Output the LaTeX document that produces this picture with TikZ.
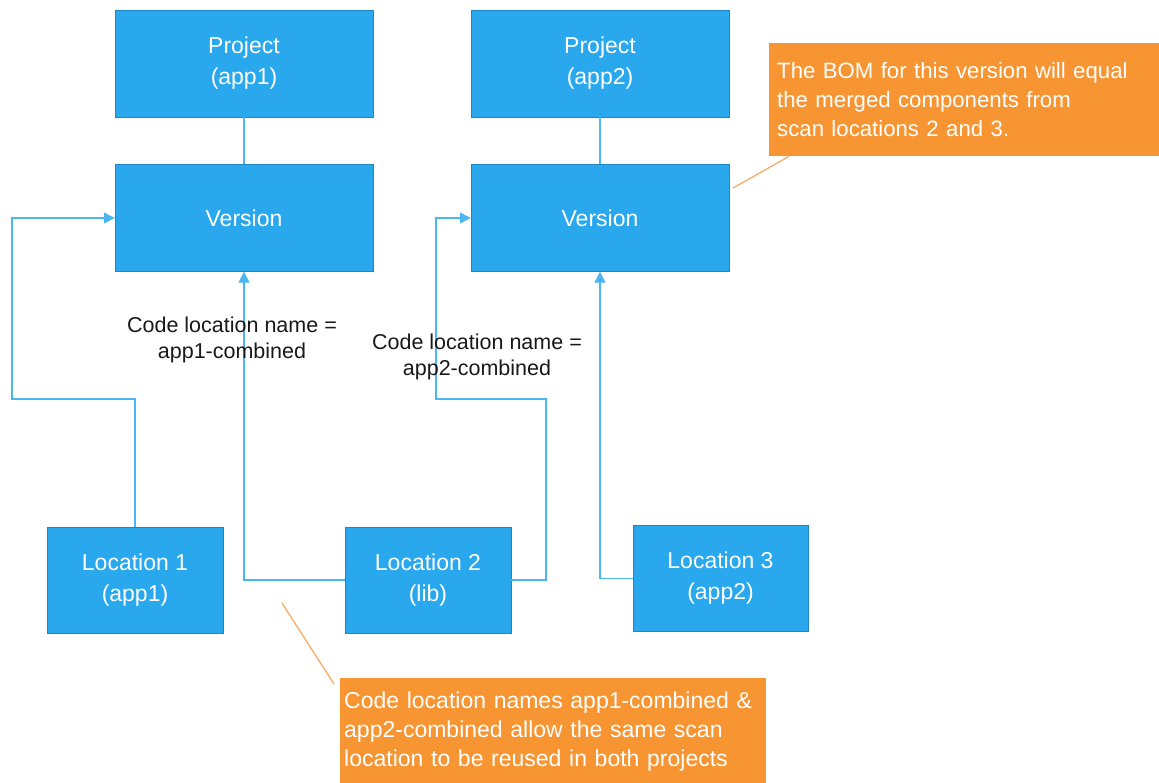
\documentclass[tikz,border=0pt]{standalone}
\usepackage{fontspec}
\setmainfont{Liberation Sans}
\usetikzlibrary{arrows.meta}

\definecolor{boxblue}{RGB}{41,168,238}
\definecolor{boxedge}{RGB}{30,135,195}
\definecolor{linkblue}{RGB}{75,182,240}
\definecolor{noteorange}{RGB}{247,149,51}
\definecolor{leaderorange}{RGB}{250,172,100}

\begin{document}
\begin{tikzpicture}[x=1pt,y=-1pt]
	\useasboundingbox (0,0) rectangle (1159,782);

	\tikzstyle{appbox}=[draw=boxedge,fill=boxblue,text=white,align=center,inner sep=0pt,
	font=\fontsize{23}{31}\selectfont]
	\tikzstyle{wide}=[minimum width=258pt,minimum height=107pt]
	\tikzstyle{loc}=[minimum height=106pt]
	\tikzstyle{plain}=[draw=linkblue,line width=1.3pt]
	\tikzstyle{link}=[plain,-{Triangle[length=11pt,width=11pt]}]
	\tikzstyle{caption}=[align=center,text=black!90,font=\fontsize{21.5}{26}\selectfont]
	\tikzstyle{note}=[fill=noteorange,text=white,align=left,anchor=north west,
	inner sep=8pt,font=\fontsize{23}{29}\selectfont]
	\tikzstyle{leader}=[draw=leaderorange,line width=1.3pt]

	%% Projects and their versions
	\node[appbox,wide] (proj1) at (244,63.5) {Project\\(app1)};
	\node[appbox,wide] (ver1) at (244,218) {Version};
	\node[appbox,wide] (proj2) at (600,63.5) {Project\\(app2)};
	\node[appbox,wide] (ver2) at (600,218) {Version};

	%% Scan locations
	\node[appbox,loc,minimum width=176pt] (loc1) at (135,580) {Location 1\\(app1)};
	\node[appbox,loc,minimum width=166pt] (loc2) at (428,580) {Location 2\\(lib)};
	\node[appbox,loc,minimum width=175pt] (loc3) at (720.5,578.5) {Location 3\\(app2)};

	%% Links
	\coordinate (turn1a) at (12,399);
	\coordinate (turn2a) at (546,399);
	\coordinate (turn2b) at (436,218);

	\draw[plain] (proj1) -- (ver1);
	\draw[plain] (proj2) -- (ver2);
	\draw[link] (loc1.north) |- (turn1a) |- (ver1.west);
	\draw[link] (loc2.west) -| (ver1.south);
	\draw[link] (loc2.east) -| (turn2a) -| (turn2b) -- (ver2.west);
	\draw[link] (loc3.west) -| (ver2.south);

	\node[caption] (name1) at (232,340) {Code location name =\\app1-combined};
	\node[caption] (name2) at (477,357) {Code location name =\\app2-combined};

	%% Notes
	\node[note,font=\fontsize{22.2}{29}\selectfont,minimum width=390pt,minimum height=113pt,text width=374pt] (bomnote) at (769,43)
	{The BOM for this version will equal\\the merged components from\\scan locations 2 and 3.};
	\node[note,inner sep=4pt,minimum width=426pt,minimum height=106pt,text width=418pt] (reusenote) at (340,678)
	{Code location names app1-combined \&\\app2-combined allow the same scan\\location to be reused in both projects};

	\coordinate (bomtip) at (733,188);
	\coordinate (reusetip) at (282,603);
	\draw[leader] ([xshift=20pt]bomnote.south west) -- (bomtip);
	\draw[leader] ([xshift=-6pt,yshift=-6pt]reusenote.north west) -- (reusetip);
\end{tikzpicture}
\end{document}
